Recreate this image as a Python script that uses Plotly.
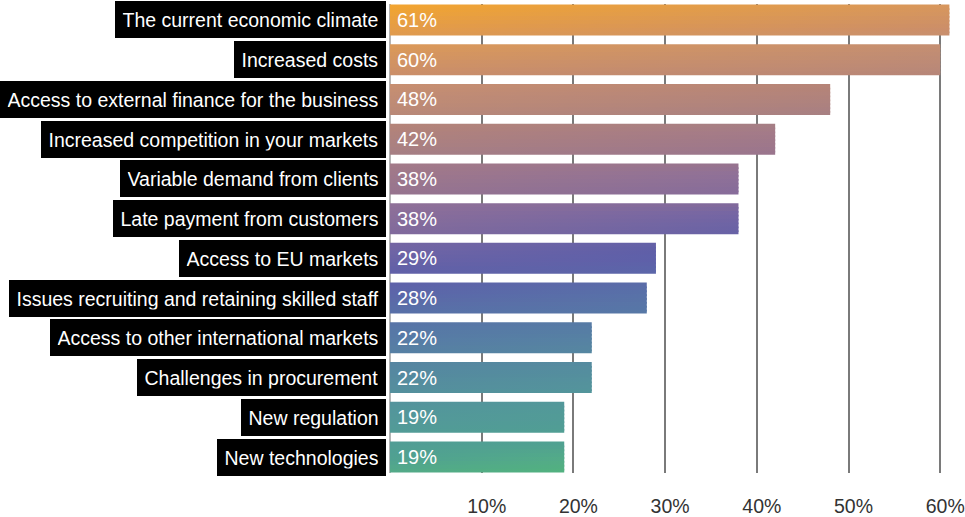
import plotly.graph_objects as go

# Survey results: share of businesses naming each factor as a barrier
categories = [
    "The current economic climate",
    "Increased costs",
    "Access to external finance for the business",
    "Increased competition in your markets",
    "Variable demand from clients",
    "Late payment from customers",
    "Access to EU markets",
    "Issues recruiting and retaining skilled staff",
    "Access to other international markets",
    "Challenges in procurement",
    "New regulation",
    "New technologies",
]
values = [61, 60, 48, 42, 38, 38, 29, 28, 22, 22, 19, 19]
tick_values = [10, 20, 30, 40, 50, 60]
tick_labels = ["10%", "20%", "30%", "40%", "50%", "60%"]

# Diagonal colour ramp over the whole bar area (orange -> mauve -> indigo
# -> teal -> green). Position u = row index (fractional inside a bar)
# plus a small share of the horizontal extent.
ramp = [
    (-0.4, "#F3A52E"),
    (0.4, "#E09A4E"),
    (0.6, "#DC9A58"),
    (1.4, "#CB8E69"),
    (1.6, "#C89070"),
    (2.4, "#B98878"),
    (2.6, "#B58478"),
    (3.4, "#A67F84"),
    (3.6, "#A47B88"),
    (4.4, "#96738F"),
    (4.6, "#907198"),
    (5.4, "#80699C"),
    (5.6, "#7566A3"),
    (6.4, "#5F5FA8"),
    (6.6, "#5E60A9"),
    (7.4, "#5870A8"),
    (8.0, "#577AA6"),
    (9.0, "#558A9F"),
    (10.0, "#53989A"),
    (11.0, "#50A092"),
    (11.4, "#53AB88"),
    (11.8, "#52B37D"),
]
SLOPE = 0.0193  # ramp units per percentage point along x


def hex_rgb(h):
    h = h.lstrip("#")
    return tuple(int(h[k:k + 2], 16) for k in (0, 2, 4))


def ramp_color(u):
    if u <= ramp[0][0]:
        return ramp[0][1]
    for (u0, c0), (u1, c1) in zip(ramp, ramp[1:]):
        if u <= u1:
            t = (u - u0) / (u1 - u0)
            a, b = hex_rgb(c0), hex_rgb(c1)
            r = [round(a[k] + (b[k] - a[k]) * t) for k in range(3)]
            return "rgb({},{},{})".format(*r)
    return ramp[-1][1]


FONT = "Liberation Sans, Arial, sans-serif"
HALF = 0.39     # half bar thickness in category units
STRIPS = 8      # horizontal bands per bar, each with its own left->right gradient
OVERLAP = 0.045  # bands overlap a little so no seams show

fig = go.Figure()

for i, (cat, v) in enumerate(zip(categories, values)):
    band = 2 * HALF / STRIPS
    for s in range(STRIPS):
        top = i - HALF + s * band
        bot = top + band + (OVERLAP if s < STRIPS - 1 else 0)
        u_mid = i - HALF + (s + 0.5) * band
        fig.add_trace(go.Scatter(
            x=[0, v, v, 0, 0],
            y=[top, top, bot, bot, top],
            mode="lines",
            fill="toself",
            line=dict(width=0),
            fillgradient=dict(
                type="horizontal",
                colorscale=[[0, ramp_color(u_mid)],
                            [1, ramp_color(u_mid + v * SLOPE)]],
            ),
            hoverinfo="skip",
            showlegend=False,
        ))
    # value label inside the bar
    fig.add_annotation(
        x=0, y=i, xref="x", yref="y",
        text=f"{v}%", showarrow=False,
        xanchor="left", yanchor="middle", xshift=5,
        font=dict(family=FONT, size=20, color="white"),
    )
    # category label in a black box left of the axis
    fig.add_annotation(
        x=0, y=i, xref="paper", yref="y",
        text=cat, showarrow=False,
        xanchor="right", yanchor="middle", xshift=-4,
        height=22, valign="middle",
        bgcolor="black", bordercolor="black", borderpad=6.5, borderwidth=1,
        font=dict(family=FONT, size=19.5, color="white"),
    )

fig.update_xaxes(
    range=[0, 62.7],
    tickvals=tick_values,
    ticktext=tick_labels,
    showgrid=True, gridcolor="#7a7a7a", gridwidth=1.5,
    zeroline=True, zerolinecolor="#b5b5b5", zerolinewidth=2,
    showline=False,
    ticks="outside", ticklen=0, ticklabelstandoff=16, ticklabelshift=5,
    ticklabeloverflow="allow",
    tickfont=dict(family=FONT, size=19.5, color="#333333"),
)
fig.update_yaxes(
    range=[11.4, -0.4],
    showgrid=False, zeroline=False, showticklabels=False, showline=False,
)
fig.update_layout(
    width=965, height=517,
    margin=dict(l=390, r=0, t=4, b=42),
    plot_bgcolor="white", paper_bgcolor="white",
)

fig.write_html("out.html")
